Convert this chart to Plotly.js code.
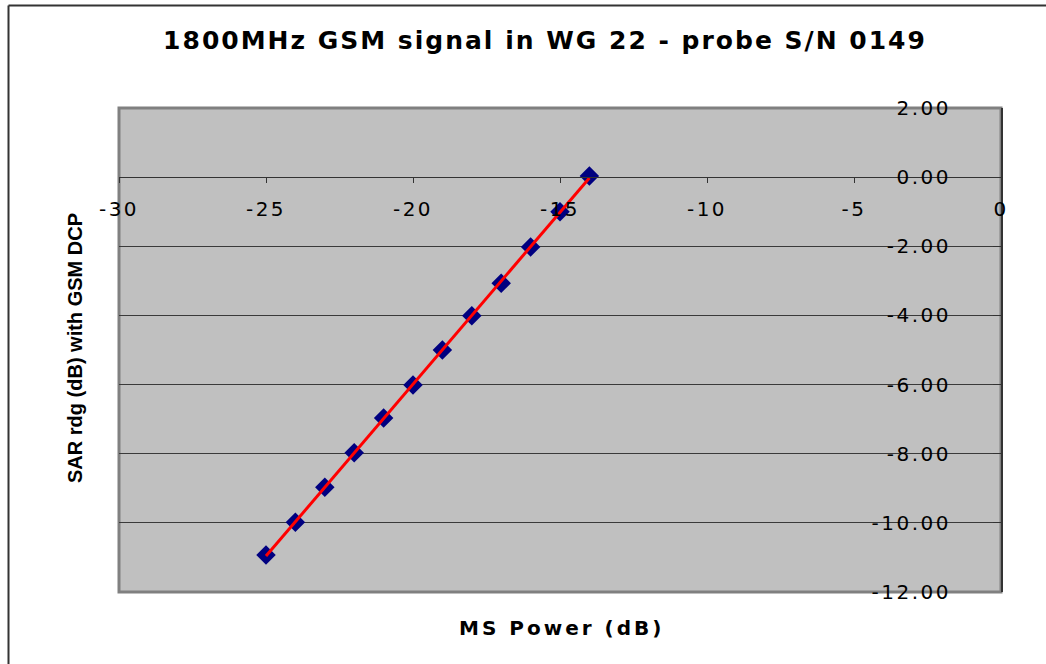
<!DOCTYPE html>
<html><head><meta charset="utf-8">
<script src="https://cdn.plot.ly/plotly-3.0.1.min.js"></script>
<style>html,body{margin:0;padding:0;background:#fff}#chart{width:1046px;height:664px}</style>
</head><body><div id="chart"></div>
<script>
// ---- data ----
const msPower    = [-25, -24, -23, -22, -21, -20, -19, -18, -17, -16, -15, -14];
const sarReading = [-10.93, -9.98, -8.97, -7.97, -6.97, -6.01, -5.00, -4.01, -3.07, -2.02, -1.00, 0.03];
const xTickValues = [-30, -25, -20, -15, -10, -5, 0];
const xTickLabels = ['-30', '-25', '-20', '-15', '-10', '-5', '0'];
const yTickValues = [-12, -10, -8, -6, -4, -2, 0, 2];
const yTickLabels = ['-12.00', '-10.00', '-8.00', '-6.00', '-4.00', '-2.00', '0.00', '2.00'];
const xRange = [-30, 0];
const yRange = [-12, 2];
const chartTitle = '1800MHz GSM signal in WG 22 - probe S/N 0149';
const xTitle = 'MS Power (dB)';
const yTitle = 'SAR rdg (dB) with GSM DCP';

// ---- linear trendline (least squares from the data) ----
const n = msPower.length;
const mx = msPower.reduce((a, b) => a + b, 0) / n;
const my = sarReading.reduce((a, b) => a + b, 0) / n;
let sxy = 0, sxx = 0;
for (let i = 0; i < n; i++) { sxy += (msPower[i] - mx) * (sarReading[i] - my); sxx += (msPower[i] - mx) ** 2; }
const slope = sxy / sxx;
const trendX = [Math.min(...msPower), Math.max(...msPower)];
const trendY = trendX.map(x => my + slope * (x - mx));

// ---- helpers ----
const W = 1046, H = 664, L = 119, R = 1001, T = 108, B = 592;
const px2x = p => (p - L) / (R - L);
const px2y = p => (B - p) / (B - T);
const spaced = (t, ls) => `<span style="letter-spacing:${ls}px">${t}</span>`;

const traces = [
  { x: msPower, y: sarReading, mode: 'markers', type: 'scatter',
    marker: { symbol: 'diamond', size: 15, color: '#000080', line: { width: 0 } },
    showlegend: false, hoverinfo: 'x+y' },
  { x: trendX, y: trendY, mode: 'lines', type: 'scatter',
    line: { color: '#FF0000', width: 3 }, showlegend: false, hoverinfo: 'skip' }
];

const layout = {
  width: W, height: H,
  margin: { l: L, r: W - R, t: T, b: H - B, pad: 0 },
  paper_bgcolor: '#FFFFFF', plot_bgcolor: '#C0C0C0',
  showlegend: false,
  title: { text: spaced(chartTitle, 2.0), xref: 'paper', x: px2x(545), xanchor: 'center',
           yref: 'container', y: 1 - 40 / H, yanchor: 'middle',
           font: { family: 'DejaVu Sans', size: 25, weight: 'bold', color: '#000' } },
  xaxis: {
    range: xRange, anchor: 'free', position: (0 - yRange[0]) / (yRange[1] - yRange[0]),
    tickmode: 'array', tickvals: xTickValues, ticktext: xTickLabels.map(t => spaced(t, 2.5)),
    ticks: 'outside', ticklen: 5, tickcolor: '#333', tickwidth: 1,
    showline: true, linecolor: '#333', linewidth: 1,
    showgrid: false, zeroline: false,
    tickfont: { family: 'DejaVu Sans', size: 20, color: '#000' },
    ticklabelstandoff: 9
  },
  yaxis: {
    range: yRange, side: 'right', anchor: 'x',
    tickmode: 'array', tickvals: yTickValues, ticktext: yTickLabels.map(t => spaced(t, 2.5)),
    ticks: 'inside', ticklen: 8, tickcolor: '#333', tickwidth: 1,
    ticklabelposition: 'inside', ticklabeloverflow: 'allow', ticklabelstandoff: 43,
    showline: true, linecolor: '#333', linewidth: 2,
    showgrid: true, gridcolor: '#3a3a3a', gridwidth: 1, zeroline: false,
    tickfont: { family: 'DejaVu Sans', size: 20, color: '#000' }
  },
  shapes: [
    { type: 'rect', xref: 'paper', yref: 'paper', x0: 0, x1: 1, y0: 0, y1: 1,
      line: { color: '#808080', width: 3 }, layer: 'below' },
    { type: 'line', xref: 'paper', yref: 'paper', x0: px2x(8.5), x1: px2x(1060), y0: px2y(5.5), y1: px2y(5.5),
      line: { color: '#333', width: 2 } },
    { type: 'line', xref: 'paper', yref: 'paper', x0: px2x(8.5), x1: px2x(8.5), y0: px2y(5.5), y1: px2y(680),
      line: { color: '#333', width: 2 } }
  ],
  annotations: [
    { text: spaced(xTitle, 3), xref: 'paper', yref: 'paper', x: px2x(561), y: px2y(628),
      xanchor: 'center', yanchor: 'middle', showarrow: false,
      font: { family: 'DejaVu Sans', size: 20, weight: 'bold', color: '#000' } },
    { text: yTitle, xref: 'paper', yref: 'paper', x: px2x(75), y: px2y(348),
      xanchor: 'center', yanchor: 'middle', showarrow: false, textangle: -90,
      font: { family: 'Liberation Sans', size: 20, weight: 'bold', color: '#000' } }
  ]
};

Plotly.newPlot('chart', traces, layout, { displayModeBar: false, staticPlot: true });
</script>
</body></html>
